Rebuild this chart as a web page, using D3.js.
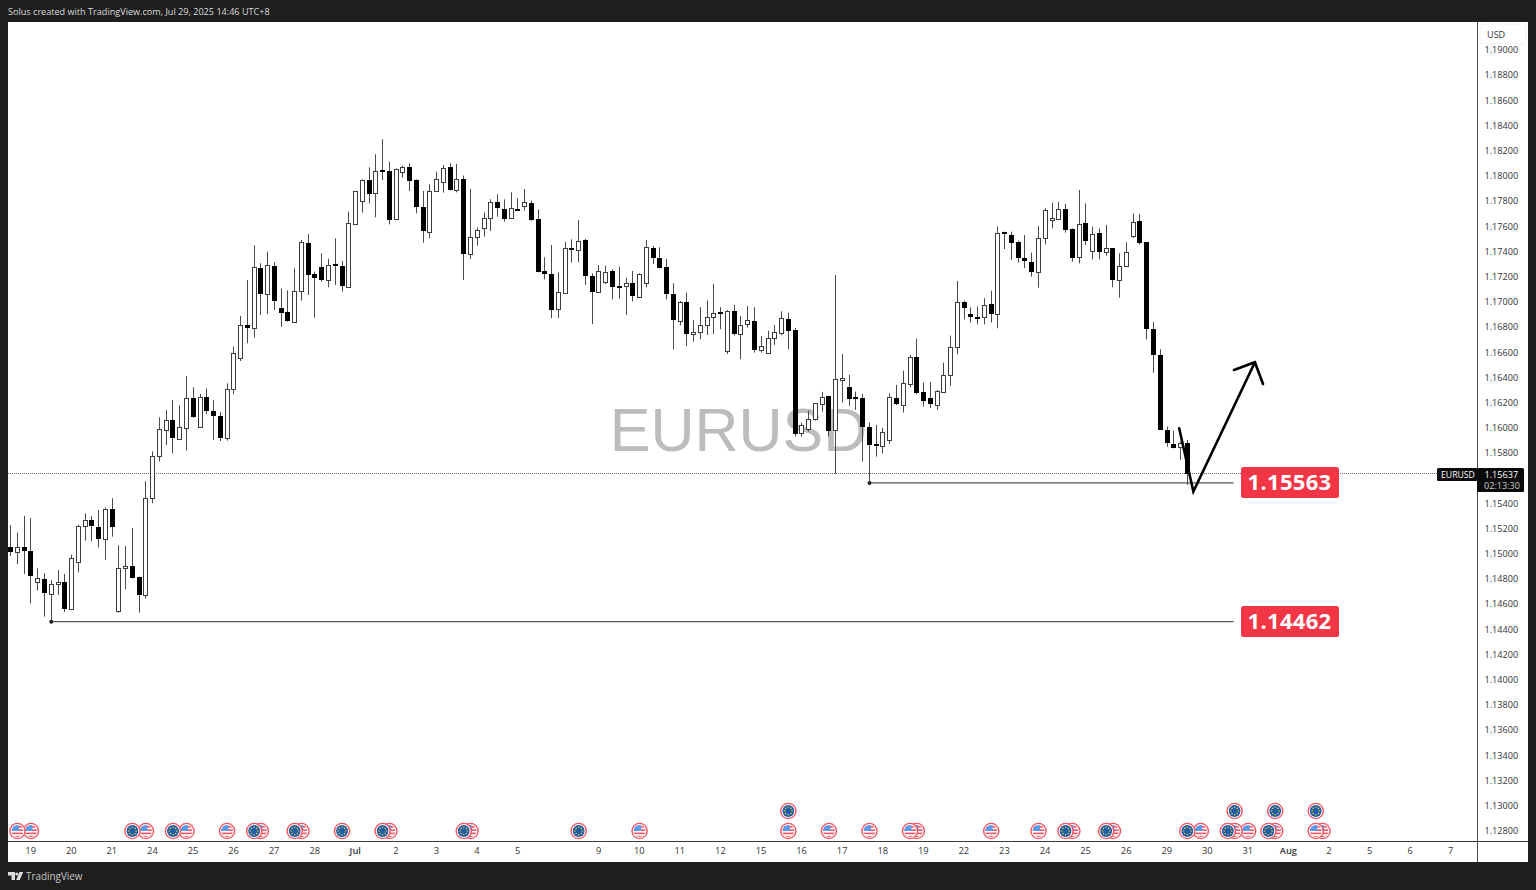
<!DOCTYPE html>
<html><head><meta charset="utf-8">
<script src="https://cdn.jsdelivr.net/npm/d3@7/dist/d3.min.js"></script>
<style>html,body{margin:0;padding:0;background:#1e1e1e;overflow:hidden}svg{display:block}text{font-family:"Open Sans","Noto Sans",sans-serif}</style>
</head><body><svg id="c" width="1536" height="890"></svg>
<script>
const opens=[1.15055,1.15018,1.15055,1.15025,1.14774,1.14803,1.14684,1.14758,1.14774,1.14560,1.14933,1.15221,1.15266,1.15216,1.15121,1.15359,1.14549,1.14888,1.14904,1.14816,1.14671,1.15441,1.15774,1.15986,1.16060,1.15915,1.16002,1.16240,1.16010,1.16248,1.16137,1.16092,1.15922,
1.16306,1.16558,1.16817,1.16791,1.17267,1.17063,1.17285,1.16952,1.16918,1.16841,1.17090,1.17465,1.17222,1.17280,1.17174,1.17299,1.17285,1.17121,1.17616,1.17799,1.17971,1.17862,1.18045,1.18037,1.17656,1.18032,1.18069,1.17965,1.17754,1.17558,1.17878,1.17950,1.18069,1.17889,1.17976,
1.17378,1.17513,1.17584,1.17669,1.17796,1.17735,1.17664,1.17740,1.17764,1.17783,1.17656,1.17243,1.17219,1.16941,1.17068,1.17426,1.17410,1.17492,1.17206,1.17082,1.17161,1.17246,1.17124,1.17127,1.17150,1.17042,1.17148,1.17431,1.17346,1.17275,1.17066,1.16846,1.17002,
1.16743,1.16759,1.16817,1.16878,1.16918,1.16614,1.16931,1.16743,1.16823,1.16849,1.16619,1.16595,1.16717,1.16757,1.16862,1.16775,1.15957,1.15989,1.16071,1.16188,1.16251,1.15981,1.16386,1.16328,1.16246,1.16241,1.16010,1.15870,1.15857,1.15905,1.16238,1.16182,1.16349,1.16561,1.16286,1.16238,1.16182,1.16288,1.16418,1.16645,
1.16997,1.16904,1.16883,1.16878,1.16984,1.16902,1.17553,1.17529,1.17473,1.17349,1.17317,1.17240,1.17505,1.17664,1.17661,1.17735,1.17576,1.17359,1.17624,1.17407,1.17545,1.17394,1.17428,1.17174,1.17283,1.17526,1.17640,1.17473,1.16788,1.16576,1.15986,1.15869,1.15851,1.15877];
const highs=[1.15229,1.15168,1.15301,1.15285,1.14885,1.14846,1.14793,1.14872,1.14840,1.14994,1.15232,1.15322,1.15301,1.15348,1.15369,1.15441,1.15068,1.15063,1.15205,1.14819,1.15576,1.15814,1.16084,1.16142,1.16221,1.16179,1.16412,1.16322,1.16269,1.16314,1.16221,1.16126,1.16354,
1.16645,1.16889,1.17174,1.17449,1.17307,1.17399,1.17315,1.17108,1.17092,1.17267,1.17492,1.17539,1.17240,1.17386,1.17344,1.17505,1.17325,1.17717,1.17878,1.17973,1.18069,1.18172,1.18291,1.18114,1.18061,1.18082,1.18100,1.17973,1.17881,1.17934,1.18034,1.18087,1.18100,1.18095,1.18003,
1.17897,1.17592,1.17711,1.17815,1.17854,1.17815,1.17870,1.17822,1.17897,1.17804,1.17735,1.17354,1.17452,1.17235,1.17478,1.17497,1.17650,1.17500,1.17227,1.17293,1.17288,1.17259,1.17280,1.17193,1.17246,1.17227,1.17492,1.17444,1.17434,1.17341,1.17148,1.17008,1.17074,
1.16857,1.16958,1.17011,1.17143,1.16958,1.16936,1.16976,1.16889,1.16968,1.16958,1.16730,1.16772,1.16817,1.16926,1.16915,1.16794,1.16042,1.16137,1.16196,1.16286,1.16254,1.17214,1.16587,1.16421,1.16288,1.16270,1.16042,1.16024,1.16000,1.16275,1.16341,1.16455,1.16579,1.16709,1.16360,1.16365,1.16301,1.16518,1.16733,1.17166,
1.17010,1.16957,1.16963,1.17029,1.17090,1.17598,1.17558,1.17558,1.17486,1.17531,1.17391,1.17603,1.17743,1.17788,1.17796,1.17777,1.17584,1.17889,1.17783,1.17598,1.17584,1.17611,1.17428,1.17386,1.17473,1.17703,1.17698,1.17473,1.16843,1.16624,1.16010,1.15978,1.15891,1.15904];
const lows=[1.14983,1.14920,1.14840,1.14607,1.14708,1.14502,1.14462,1.14674,1.14539,1.14554,1.14853,1.15105,1.15100,1.15052,1.14951,1.15137,1.14533,1.14719,1.14803,1.14533,1.14644,1.15401,1.15735,1.15864,1.15798,1.15915,1.15819,1.16079,1.16005,1.16110,1.15904,1.15896,1.15899,
1.16267,1.16531,1.16672,1.16717,1.16896,1.16902,1.16936,1.16804,1.16844,1.16836,1.17010,1.17055,1.16875,1.17161,1.17116,1.17135,1.17082,1.17116,1.17611,1.17709,1.17783,1.17672,1.17968,1.17616,1.17651,1.17987,1.17881,1.17703,1.17471,1.17505,1.17873,1.17868,1.17883,1.17870,1.17174,
1.17341,1.17447,1.17518,1.17563,1.17677,1.17637,1.17658,1.17722,1.17725,1.17645,1.17235,1.17179,1.16870,1.16873,1.17063,1.17312,1.17314,1.17135,1.16825,1.17076,1.17142,1.17021,1.17026,1.16896,1.17005,1.17037,1.17116,1.17301,1.17267,1.17021,1.16624,1.16814,1.16650,
1.16685,1.16704,1.16738,1.16743,1.16783,1.16587,1.16733,1.16545,1.16796,1.16598,1.16598,1.16592,1.16659,1.16735,1.16624,1.15931,1.15931,1.15971,1.16058,1.16129,1.15931,1.15635,1.16201,1.16174,1.16143,1.15733,1.15566,1.15772,1.15799,1.15873,1.16182,1.16122,1.16323,1.16270,1.16169,1.16158,1.16143,1.16280,1.16333,1.16584,
1.16862,1.16836,1.16822,1.16822,1.16836,1.16791,1.17420,1.17333,1.17312,1.17269,1.17201,1.17113,1.17457,1.17584,1.17656,1.17550,1.17320,1.17306,1.17452,1.17338,1.17338,1.17367,1.17116,1.17034,1.17280,1.17508,1.17457,1.16703,1.16438,1.15983,1.15851,1.15838,1.15745,1.15547];
const closes=[1.15018,1.15055,1.15025,1.14824,1.14809,1.14687,1.14758,1.14774,1.14560,1.14965,1.15221,1.15266,1.15221,1.15121,1.15356,1.15213,1.14888,1.14901,1.14811,1.14671,1.15444,1.15774,1.15989,1.16060,1.15922,1.16005,1.16240,1.16084,1.16245,1.16132,1.16094,1.15922,1.16306,
1.16597,1.16817,1.16791,1.17275,1.17063,1.17293,1.17008,1.16915,1.16849,1.17090,1.17473,1.17217,1.17188,1.17174,1.17296,1.17291,1.17127,1.17624,1.17878,1.17971,1.17860,1.18042,1.18032,1.17648,1.18058,1.18074,1.17958,1.17754,1.17563,1.17883,1.17979,1.18061,1.17889,1.17976,1.17378,
1.17518,1.17568,1.17669,1.17796,1.17743,1.17661,1.17743,1.17730,1.17796,1.17650,1.17240,1.17224,1.16936,1.17082,1.17426,1.17410,1.17486,1.17206,1.17082,1.17248,1.17240,1.17121,1.17119,1.17150,1.17045,1.17224,1.17434,1.17346,1.17272,1.17063,1.16854,1.16997,1.16743,
1.16764,1.16817,1.16878,1.16910,1.16907,1.16931,1.16743,1.16820,1.16854,1.16619,1.16653,1.16717,1.16759,1.16870,1.16772,1.15952,1.16024,1.16071,1.16196,1.16246,1.15979,1.16386,1.16399,1.16233,1.16238,1.16008,1.15867,1.15860,1.15971,1.16246,1.16188,1.16354,1.16561,1.16280,1.16217,1.16190,1.16291,1.16418,1.16645,1.16997,
1.16949,1.16878,1.16878,1.16978,1.16904,1.17545,1.17539,1.17465,1.17346,1.17322,1.17240,1.17510,1.17730,1.17669,1.17735,1.17574,1.17351,1.17619,1.17484,1.17539,1.17399,1.17428,1.17174,1.17288,1.17394,1.17637,1.17471,1.16785,1.16576,1.15983,1.15883,1.15843,1.15880,1.15637];
const dayTickBars=[3,9,15,21,27,33,39,45,51,57,63,69,75,87,93,99,105,111,117,123,129,135,141,147,153,159,165,171,177,183,189,195,201,207,213];
const dayTickLabels=["19","20","21","24","25","26","27","28","Jul","2","3","4","5","9","10","11","12","15","16","17","18","19","22","23","24","25","26","29","30","31","Aug","2","5","6","7"];
const priceTicks=d3.range(0,32).map(i=>+(1.128+i*0.002).toFixed(3)).filter(v=>v!==1.156);
const usEvents=[1,3,20,26,32,37,43,56,68,93,115,121,127,133,134,145,152,157,163,176,181,183,187,193,194];
const euEvents=[18,24,36,42,49,55,67,84,156,162,174,180,186];
const euEventsUpper=[115,181,187,193];
const levels=[{price:1.15563,from:127,to:181,label:"1.15563"},{price:1.14462,from:6,to:181,label:"1.14462"}];
const arrowPath=[[172.8,1.15997],[174.9,1.15494],[184,1.16521]];
const arrowHead=[[180.9,1.16460],[184,1.16521],[185.2,1.16349]];
const symbol="EURUSD",currentPrice=1.15637,countdown="02:13:30";

const x0=8,x1=1477,yTop=22,yAxis=841,yBot=862,rightEnd=1528;
const x=d3.scaleLinear().domain([0,213]).range([10.7,10.7+213*6.762]);
const y=d3.scaleLinear().domain([1.128,1.19]).range([831,50]);
const svg=d3.select("#c");
const defs=svg.append("defs");
defs.append("clipPath").attr("id","plot").append("rect").attr("x",x0).attr("y",yTop).attr("width",x1-x0).attr("height",yAxis-yTop);
defs.append("clipPath").attr("id","flag").append("circle").attr("r",6);

svg.append("rect").attr("width",1536).attr("height",890).attr("fill","#1e1e1e");
svg.append("rect").attr("x",x0).attr("y",yTop).attr("width",rightEnd-x0).attr("height",yBot-yTop).attr("fill","#fff");
svg.append("text").attr("x",8).attr("y",14.5).attr("fill","#dcdcdc").attr("font-size",9.1).text("Solus created with TradingView.com, Jul 29, 2025 14:46 UTC+8");

const plot=svg.append("g").attr("clip-path","url(#plot)");
plot.append("text").attr("x",738.5).attr("y",451).attr("text-anchor","middle").attr("fill","#bcbcbc")
  .style("font-family","'Liberation Sans',sans-serif").attr("font-size",61).text(symbol);
plot.append("line").attr("x1",x0).attr("x2",x1).attr("y1",Math.floor(y(currentPrice))+.5).attr("y2",Math.floor(y(currentPrice))+.5)
  .attr("stroke","#666").attr("stroke-dasharray","1 1");

const bars=d3.range(opens.length).map(i=>({i,o:opens[i],h:highs[i],l:lows[i],c:closes[i]}));
const g=plot.selectAll("g.bar").data(bars).join("g").attr("class","bar");
g.append("rect").attr("x",d=>Math.floor(x(d.i))).attr("width",1).attr("y",d=>y(d.h)).attr("height",d=>y(d.l)-y(d.h)).attr("fill","#4a4a4a");
g.each(function(d){
  const s=d3.select(this),px=Math.floor(x(d.i)),t=Math.round(y(Math.max(d.o,d.c))),b=Math.round(y(Math.min(d.o,d.c)));
  if(d.c<d.o){s.append("rect").attr("x",px-2).attr("width",5).attr("y",t).attr("height",Math.max(b-t,2)).attr("fill","#000");}
  else{s.append("rect").attr("x",px-1.5).attr("width",4).attr("y",t+.5).attr("height",Math.max(b-t,2)).attr("fill","#fff").attr("stroke","#3c3c3c").attr("stroke-width",1);}
});

levels.forEach(L=>{
  const ly=y(L.price);
  plot.append("line").attr("x1",x(L.from)).attr("x2",x(L.to)-1).attr("y1",ly).attr("y2",ly).attr("stroke","#555").attr("stroke-width",1.2);
  plot.append("circle").attr("cx",x(L.from)).attr("cy",ly).attr("r",2).attr("fill","#222");
  const ry=Math.round(ly);
  plot.append("rect").attr("x",1241).attr("y",ry-16).attr("width",98).attr("height",31).attr("rx",2.5).attr("fill","#f23645");
  plot.append("text").attr("x",1289.5).attr("y",ry+7).attr("text-anchor","middle").attr("fill","#fff").attr("font-weight",700).attr("font-size",22).attr("letter-spacing",.3).text(L.label);
});
const line=d3.line().x(d=>x(d[0])).y(d=>y(d[1]));
[arrowPath,arrowHead].forEach(p=>plot.append("path").attr("d",line(p)).attr("fill","none").attr("stroke","#000").attr("stroke-width",2.6).attr("stroke-linecap","round").attr("stroke-linejoin","miter"));

// event badges
function badge(sel,cur){
  sel.append("circle").attr("r",7.6).attr("fill","#fff").attr("stroke","#f7525f").attr("stroke-width",1.4);
  const f=sel.append("g").attr("clip-path","url(#flag)");
  if(cur==="US"){
    f.append("rect").attr("x",-6).attr("y",-6).attr("width",12).attr("height",12).attr("fill","#fff");
    d3.range(-5,6,3.3).forEach(v=>f.append("rect").attr("x",-6).attr("y",v).attr("width",12).attr("height",1.6).attr("fill","#ef5360"));
    f.append("rect").attr("x",-6).attr("y",-6).attr("width",7.5).attr("height",6).attr("fill","#5a9bea");
  }else{
    f.append("rect").attr("x",-6).attr("y",-6).attr("width",12).attr("height",12).attr("fill","#1d5ea8");
    d3.range(8).forEach(k=>f.append("circle").attr("cx",3.7*Math.cos(k*Math.PI/4)).attr("cy",3.7*Math.sin(k*Math.PI/4)).attr("r",.8).attr("fill","#e7c23a"));
  }
}
const evs=[...usEvents.map(b=>({b,cur:"US",row:0})),...euEvents.map(b=>({b,cur:"EU",row:0})),...euEventsUpper.map(b=>({b,cur:"EU",row:1}))].sort((a,b)=>b.b-a.b);
evs.forEach(e=>plot.append("g").attr("transform",`translate(${x(e.b)},${e.row?811:831})`).call(badge,e.cur));

// price axis
svg.append("rect").attr("x",x1).attr("y",yTop).attr("width",1).attr("height",yBot-yTop).attr("fill","#4a4a4a");
svg.append("rect").attr("x",x0).attr("y",yAxis).attr("width",rightEnd-x0).attr("height",1).attr("fill","#3a3a3a");
const pa=svg.append("g").attr("transform",`translate(${x1},0)`).call(d3.axisRight(y).tickValues(priceTicks).tickFormat(d3.format(".5f")).tickSize(0).tickPadding(7.5));
pa.select(".domain").remove();
pa.selectAll("text").attr("fill","#333").attr("font-size",9.1).style("font-family","'Open Sans',sans-serif").attr("dy","0.3em");
svg.append("rect").attr("x",1480).attr("y",24).attr("width",46).attr("height",20).attr("rx",3).attr("fill","#fff").attr("stroke","#f1f1f1");
svg.append("text").attr("x",1487).attr("y",37.5).attr("fill","#333").attr("font-size",9.1).text("USD");

// time axis
const xa=svg.append("g").attr("transform",`translate(-0.8,${yAxis})`).call(d3.axisBottom(x).tickValues(dayTickBars).tickFormat((d,i)=>dayTickLabels[i]).tickSize(0).tickPadding(6));
xa.select(".domain").remove();
xa.selectAll("text").attr("fill","#333").attr("font-size",9.3).style("font-family","'Open Sans',sans-serif").attr("font-weight",(d,i)=>/[A-Z]/.test(dayTickLabels[i])?600:400);
svg.append("rect").attr("x",x1).attr("y",yAxis).attr("width",1).attr("height",yBot-yAxis).attr("fill","#4a4a4a");

// last price tags
svg.append("rect").attr("x",1437).attr("y",468).attr("width",41).attr("height",13).attr("rx",1.5).attr("fill","#0a0a0a");
svg.append("rect").attr("x",1477).attr("y",468).attr("width",47).attr("height",24).attr("rx",1.5).attr("fill","#0a0a0a");
svg.append("text").attr("x",1441).attr("y",477.8).attr("fill","#fff").attr("font-size",8.7).text(symbol);
svg.append("text").attr("x",1484.5).attr("y",477.8).attr("fill","#fff").attr("font-size",9.1).text(d3.format(".5f")(currentPrice));
svg.append("text").attr("x",1484).attr("y",488.6).attr("fill","#ccc").attr("font-size",9.1).text(countdown);

// footer
const lg=svg.append("g").attr("fill","#dedede");
lg.append("path").attr("d","M8 872h7v8h-3.5v-4.6H8z");
lg.append("circle").attr("cx",16.8).attr("cy",874).attr("r",1.6);
lg.append("path").attr("d","M19.5 872h3.7l-3.4 8h-3.7z");
svg.append("text").attr("x",26).attr("y",880).attr("fill","#c8c8c8").attr("font-size",9.9).text("TradingView");
</script></body></html>
